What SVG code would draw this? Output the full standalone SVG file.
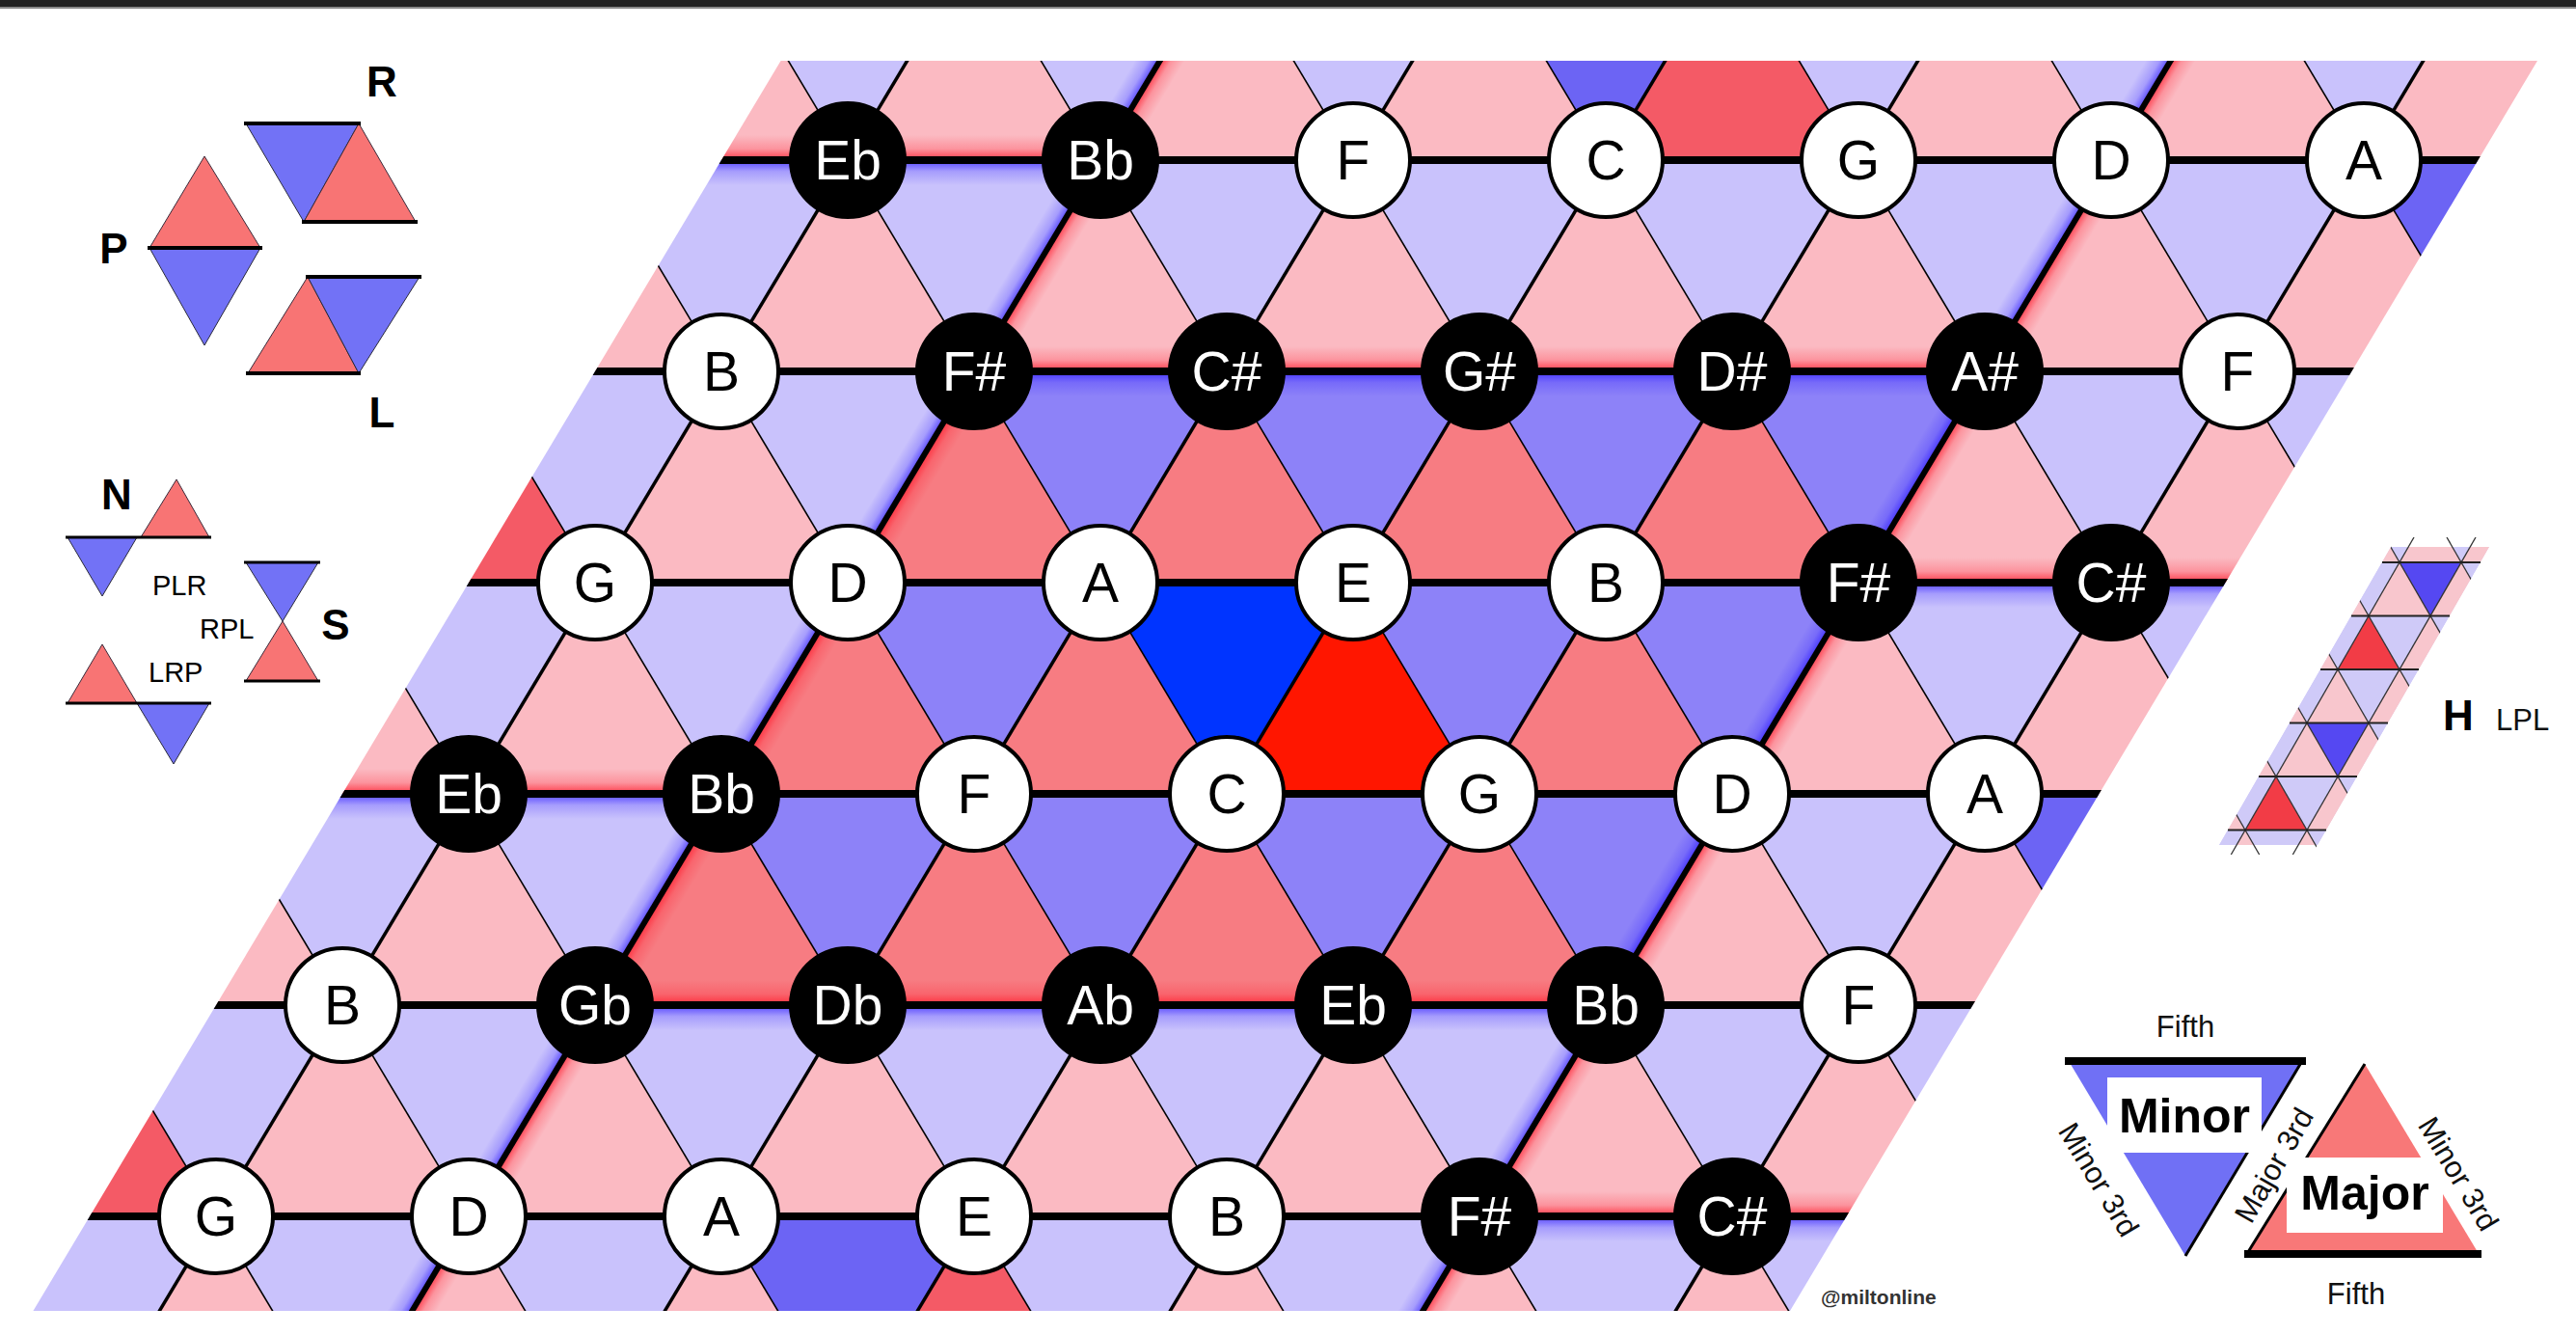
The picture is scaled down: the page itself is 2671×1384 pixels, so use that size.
<svg xmlns="http://www.w3.org/2000/svg" width="2671" height="1384" viewBox="0 0 2671 1384">
<style>
text{font-family:"Liberation Sans",Arial,Helvetica,sans-serif}
.lu{fill:#fbbac2}.ld{fill:#c9c2fc}.du{fill:#f77c82}.dd{fill:#8d82f8}.cu{fill:#f45a66}.ad{fill:#6c64f4}.hu{fill:#ff1600}.hd{fill:#0034ff}
.h{stroke:#000;stroke-width:8}
.s{stroke:#000;stroke-width:3.5}
.sb{stroke:#000;stroke-width:6}
.b{stroke:#000;stroke-width:1.6}
.wn{fill:#fff;stroke:#000;stroke-width:4}
.bn{fill:#000;stroke:#000;stroke-width:4}
.tw{font-size:57px;fill:#000;text-anchor:middle}
.tb{font-size:57px;fill:#fff;text-anchor:middle}
.lr{fill:#f87474;stroke:#3a2a3a;stroke-width:1}
.lb{fill:#7272f6;stroke:#2a2a3a;stroke-width:1}
.kl{stroke:#000;stroke-width:4}
.big{font-size:44px;font-weight:bold;text-anchor:middle}
.sm{font-size:29px}
.mlu{fill:#f8c6cd}.mld{fill:#cfcaf8}.mr{fill:#f23c46}.mb{fill:#5548f2}
.ml{stroke:#222;stroke-width:2}
.mt{stroke:#333;stroke-width:1.3}
.lg{font-size:31px;fill:#111;text-anchor:middle}
</style>
<defs>
<path id="tu" d="M0,0 L-131,219 L131,219 Z"/>
<path id="td" d="M0,0 L262,0 L131,219 Z"/>
<path id="mu" d="M0,0 L-32,55.5 L32,55.5 Z"/>
<path id="md" d="M0,0 L64,0 L32,55.5 Z"/>
<clipPath id="latt"><polygon points="809.6,63 2631,63 1856,1359 34.4,1359"/></clipPath>
<clipPath id="strip"><polygon points="2479,567 2581,567 2403,876 2301,876"/></clipPath>
<clipPath id="strip2"><polygon points="2485,557 2587,557 2397,886 2295,886"/></clipPath>
<linearGradient id="gR" x1="0" y1="0" x2="0" y2="1"><stop offset="0" stop-color="#ff2030" stop-opacity="0"/><stop offset="0.55" stop-color="#ff2030" stop-opacity="0.25"/><stop offset="1" stop-color="#ff2030" stop-opacity="0.85"/></linearGradient>
<linearGradient id="gB" x1="0" y1="0" x2="0" y2="1"><stop offset="0" stop-color="#2a18ff" stop-opacity="0.75"/><stop offset="0.45" stop-color="#2a18ff" stop-opacity="0.22"/><stop offset="1" stop-color="#2a18ff" stop-opacity="0"/></linearGradient>
<linearGradient id="gRv" x1="0" y1="0" x2="1" y2="0"><stop offset="0" stop-color="#ff2030" stop-opacity="0.85"/><stop offset="0.45" stop-color="#ff2030" stop-opacity="0.25"/><stop offset="1" stop-color="#ff2030" stop-opacity="0"/></linearGradient>
<linearGradient id="gBv" x1="0" y1="0" x2="1" y2="0"><stop offset="0" stop-color="#2a18ff" stop-opacity="0"/><stop offset="0.55" stop-color="#2a18ff" stop-opacity="0.22"/><stop offset="1" stop-color="#2a18ff" stop-opacity="0.75"/></linearGradient>
</defs>
<rect x="0" y="0" width="2671" height="1384" fill="#fff"/>
<rect x="0" y="0" width="2671" height="7" fill="#232323"/>
<rect x="0" y="7" width="2671" height="2" fill="#8a8a8a"/>

<g id="lattice" clip-path="url(#latt)">
<g id="triangles">
<use href="#tu" class="lu" x="748" y="-53"/><use href="#tu" class="lu" x="1010" y="-53"/><use href="#tu" class="lu" x="1272" y="-53"/><use href="#tu" class="lu" x="1534" y="-53"/><use href="#tu" class="cu" x="1796" y="-53"/><use href="#tu" class="lu" x="2058" y="-53"/><use href="#tu" class="lu" x="2320" y="-53"/><use href="#tu" class="lu" x="2582" y="-53"/>
<use href="#td" class="ld" x="748" y="-53"/><use href="#td" class="ld" x="1010" y="-53"/><use href="#td" class="ld" x="1272" y="-53"/><use href="#td" class="ad" x="1534" y="-53"/><use href="#td" class="ld" x="1796" y="-53"/><use href="#td" class="ld" x="2058" y="-53"/><use href="#td" class="ld" x="2320" y="-53"/><use href="#td" class="ld" x="2582" y="-53"/>

<use href="#tu" class="lu" x="617" y="166"/><use href="#tu" class="lu" x="879" y="166"/><use href="#tu" class="lu" x="1141" y="166"/><use href="#tu" class="lu" x="1403" y="166"/><use href="#tu" class="lu" x="1665" y="166"/><use href="#tu" class="lu" x="1927" y="166"/><use href="#tu" class="lu" x="2189" y="166"/><use href="#tu" class="lu" x="2451" y="166"/>
<use href="#td" class="ld" x="617" y="166"/><use href="#td" class="ld" x="879" y="166"/><use href="#td" class="ld" x="1141" y="166"/><use href="#td" class="ld" x="1403" y="166"/><use href="#td" class="ld" x="1665" y="166"/><use href="#td" class="ld" x="1927" y="166"/><use href="#td" class="ld" x="2189" y="166"/><use href="#td" class="ad" x="2451" y="166"/>

<use href="#tu" class="cu" x="486" y="385"/><use href="#tu" class="lu" x="748" y="385"/><use href="#tu" class="du" x="1010" y="385"/><use href="#tu" class="du" x="1272" y="385"/><use href="#tu" class="du" x="1534" y="385"/><use href="#tu" class="du" x="1796" y="385"/><use href="#tu" class="lu" x="2058" y="385"/><use href="#tu" class="lu" x="2320" y="385"/>
<use href="#td" class="ld" x="486" y="385"/><use href="#td" class="ld" x="748" y="385"/><use href="#td" class="dd" x="1010" y="385"/><use href="#td" class="dd" x="1272" y="385"/><use href="#td" class="dd" x="1534" y="385"/><use href="#td" class="dd" x="1796" y="385"/><use href="#td" class="ld" x="2058" y="385"/><use href="#td" class="ld" x="2320" y="385"/>

<use href="#tu" class="lu" x="355" y="604"/><use href="#tu" class="lu" x="617" y="604"/><use href="#tu" class="du" x="879" y="604"/><use href="#tu" class="du" x="1141" y="604"/><use href="#tu" class="hu" x="1403" y="604"/><use href="#tu" class="du" x="1665" y="604"/><use href="#tu" class="lu" x="1927" y="604"/><use href="#tu" class="lu" x="2189" y="604"/>
<use href="#td" class="ld" x="355" y="604"/><use href="#td" class="ld" x="617" y="604"/><use href="#td" class="dd" x="879" y="604"/><use href="#td" class="hd" x="1141" y="604"/><use href="#td" class="dd" x="1403" y="604"/><use href="#td" class="dd" x="1665" y="604"/><use href="#td" class="ld" x="1927" y="604"/><use href="#td" class="ld" x="2189" y="604"/>

<use href="#tu" class="lu" x="224" y="823"/><use href="#tu" class="lu" x="486" y="823"/><use href="#tu" class="du" x="748" y="823"/><use href="#tu" class="du" x="1010" y="823"/><use href="#tu" class="du" x="1272" y="823"/><use href="#tu" class="du" x="1534" y="823"/><use href="#tu" class="lu" x="1796" y="823"/><use href="#tu" class="lu" x="2058" y="823"/>
<use href="#td" class="ld" x="224" y="823"/><use href="#td" class="ld" x="486" y="823"/><use href="#td" class="dd" x="748" y="823"/><use href="#td" class="dd" x="1010" y="823"/><use href="#td" class="dd" x="1272" y="823"/><use href="#td" class="dd" x="1534" y="823"/><use href="#td" class="ld" x="1796" y="823"/><use href="#td" class="ad" x="2058" y="823"/>

<use href="#tu" class="cu" x="93" y="1042"/><use href="#tu" class="lu" x="355" y="1042"/><use href="#tu" class="lu" x="617" y="1042"/><use href="#tu" class="lu" x="879" y="1042"/><use href="#tu" class="lu" x="1141" y="1042"/><use href="#tu" class="lu" x="1403" y="1042"/><use href="#tu" class="lu" x="1665" y="1042"/><use href="#tu" class="lu" x="1927" y="1042"/>
<use href="#td" class="ld" x="93" y="1042"/><use href="#td" class="ld" x="355" y="1042"/><use href="#td" class="ld" x="617" y="1042"/><use href="#td" class="ld" x="879" y="1042"/><use href="#td" class="ld" x="1141" y="1042"/><use href="#td" class="ld" x="1403" y="1042"/><use href="#td" class="ld" x="1665" y="1042"/><use href="#td" class="ld" x="1927" y="1042"/>

<use href="#tu" class="lu" x="-38" y="1261"/><use href="#tu" class="lu" x="224" y="1261"/><use href="#tu" class="lu" x="486" y="1261"/><use href="#tu" class="lu" x="748" y="1261"/><use href="#tu" class="cu" x="1010" y="1261"/><use href="#tu" class="lu" x="1272" y="1261"/><use href="#tu" class="lu" x="1534" y="1261"/><use href="#tu" class="lu" x="1796" y="1261"/>
<use href="#td" class="ld" x="-38" y="1261"/><use href="#td" class="ld" x="224" y="1261"/><use href="#td" class="ld" x="486" y="1261"/><use href="#td" class="ad" x="748" y="1261"/><use href="#td" class="ld" x="1010" y="1261"/><use href="#td" class="ld" x="1272" y="1261"/><use href="#td" class="ld" x="1534" y="1261"/><use href="#td" class="ld" x="1796" y="1261"/>
</g>
<g id="glow">
<rect x="700" y="140" width="441" height="26" fill="url(#gR)"/><rect x="700" y="166" width="441" height="26" fill="url(#gB)"/>
<rect x="1010" y="359" width="1048" height="26" fill="url(#gR)"/><rect x="1010" y="385" width="1048" height="26" fill="url(#gB)"/>
<rect x="1927" y="578" width="473" height="26" fill="url(#gR)"/><rect x="1927" y="604" width="473" height="26" fill="url(#gB)"/>
<rect x="300" y="797" width="448" height="26" fill="url(#gR)"/><rect x="300" y="823" width="448" height="26" fill="url(#gB)"/>
<rect x="617" y="1016" width="1048" height="26" fill="url(#gR)"/><rect x="617" y="1042" width="1048" height="26" fill="url(#gB)"/>
<rect x="1534" y="1235" width="466" height="26" fill="url(#gR)"/><rect x="1534" y="1261" width="466" height="26" fill="url(#gB)"/>
<g transform="translate(1141,166) skewX(-30.89)"><rect x="-26" y="-120" width="26" height="1330" fill="url(#gBv)"/><rect x="0" y="-120" width="26" height="1330" fill="url(#gRv)"/></g>
<g transform="translate(2189,166) skewX(-30.89)"><rect x="-26" y="-120" width="26" height="1330" fill="url(#gBv)"/><rect x="0" y="-120" width="26" height="1330" fill="url(#gRv)"/></g>
</g>
<g id="connectors">
<line class="b" x1="-506.4" y1="40" x2="295.2" y2="1380"/>
<line class="b" x1="-244.4" y1="40" x2="557.2" y2="1380"/>
<line class="b" x1="17.6" y1="40" x2="819.2" y2="1380"/>
<line class="b" x1="279.6" y1="40" x2="1081.2" y2="1380"/>
<line class="b" x1="541.6" y1="40" x2="1343.2" y2="1380"/>
<line class="b" x1="803.6" y1="40" x2="1605.2" y2="1380"/>
<line class="b" x1="1065.6" y1="40" x2="1867.2" y2="1380"/>
<line class="b" x1="1327.6" y1="40" x2="2129.2" y2="1380"/>
<line class="b" x1="1589.6" y1="40" x2="2391.2" y2="1380"/>
<line class="b" x1="1851.6" y1="40" x2="2653.2" y2="1380"/>
<line class="b" x1="2113.6" y1="40" x2="2915.2" y2="1380"/>
<line class="b" x1="2375.6" y1="40" x2="3177.2" y2="1380"/>
<line class="s" x1="954.4" y1="40" x2="152.8" y2="1380"/>
<line class="sb" x1="1216.4" y1="40" x2="414.8" y2="1380"/>
<line class="s" x1="1478.4" y1="40" x2="676.8" y2="1380"/>
<line class="s" x1="1740.4" y1="40" x2="938.8" y2="1380"/>
<line class="s" x1="2002.4" y1="40" x2="1200.8" y2="1380"/>
<line class="sb" x1="2264.4" y1="40" x2="1462.8" y2="1380"/>
<line class="s" x1="2526.4" y1="40" x2="1724.8" y2="1380"/>
<line class="h" x1="700" y1="166" x2="2640" y2="166"/>
<line class="h" x1="560" y1="385" x2="2500" y2="385"/>
<line class="h" x1="430" y1="604" x2="2380" y2="604"/>
<line class="h" x1="300" y1="823" x2="2240" y2="823"/>
<line class="h" x1="170" y1="1042" x2="2110" y2="1042"/>
<line class="h" x1="40" y1="1261" x2="1980" y2="1261"/>
</g>
</g>

<g id="nodes">
<g id="n-0-Eb"><circle class="bn" cx="879" cy="166" r="59"/><text class="tb" x="879" y="186">Eb</text></g>
<g id="n-0-Bb"><circle class="bn" cx="1141" cy="166" r="59"/><text class="tb" x="1141" y="186">Bb</text></g>
<g id="n-0-F"><circle class="wn" cx="1403" cy="166" r="59"/><text class="tw" x="1403" y="186">F</text></g>
<g id="n-0-C"><circle class="wn" cx="1665" cy="166" r="59"/><text class="tw" x="1665" y="186">C</text></g>
<g id="n-0-G"><circle class="wn" cx="1927" cy="166" r="59"/><text class="tw" x="1927" y="186">G</text></g>
<g id="n-0-D"><circle class="wn" cx="2189" cy="166" r="59"/><text class="tw" x="2189" y="186">D</text></g>
<g id="n-0-A"><circle class="wn" cx="2451" cy="166" r="59"/><text class="tw" x="2451" y="186">A</text></g>

<g id="n-1-B"><circle class="wn" cx="748" cy="385" r="59"/><text class="tw" x="748" y="405">B</text></g>
<g id="n-1-Fs"><circle class="bn" cx="1010" cy="385" r="59"/><text class="tb" x="1010" y="405">F#</text></g>
<g id="n-1-Cs"><circle class="bn" cx="1272" cy="385" r="59"/><text class="tb" x="1272" y="405">C#</text></g>
<g id="n-1-Gs"><circle class="bn" cx="1534" cy="385" r="59"/><text class="tb" x="1534" y="405">G#</text></g>
<g id="n-1-Ds"><circle class="bn" cx="1796" cy="385" r="59"/><text class="tb" x="1796" y="405">D#</text></g>
<g id="n-1-As"><circle class="bn" cx="2058" cy="385" r="59"/><text class="tb" x="2058" y="405">A#</text></g>
<g id="n-1-F"><circle class="wn" cx="2320" cy="385" r="59"/><text class="tw" x="2320" y="405">F</text></g>

<g id="n-2-G"><circle class="wn" cx="617" cy="604" r="59"/><text class="tw" x="617" y="624">G</text></g>
<g id="n-2-D"><circle class="wn" cx="879" cy="604" r="59"/><text class="tw" x="879" y="624">D</text></g>
<g id="n-2-A"><circle class="wn" cx="1141" cy="604" r="59"/><text class="tw" x="1141" y="624">A</text></g>
<g id="n-2-E"><circle class="wn" cx="1403" cy="604" r="59"/><text class="tw" x="1403" y="624">E</text></g>
<g id="n-2-B"><circle class="wn" cx="1665" cy="604" r="59"/><text class="tw" x="1665" y="624">B</text></g>
<g id="n-2-Fs"><circle class="bn" cx="1927" cy="604" r="59"/><text class="tb" x="1927" y="624">F#</text></g>
<g id="n-2-Cs"><circle class="bn" cx="2189" cy="604" r="59"/><text class="tb" x="2189" y="624">C#</text></g>

<g id="n-3-Eb"><circle class="bn" cx="486" cy="823" r="59"/><text class="tb" x="486" y="843">Eb</text></g>
<g id="n-3-Bb"><circle class="bn" cx="748" cy="823" r="59"/><text class="tb" x="748" y="843">Bb</text></g>
<g id="n-3-F"><circle class="wn" cx="1010" cy="823" r="59"/><text class="tw" x="1010" y="843">F</text></g>
<g id="n-3-C"><circle class="wn" cx="1272" cy="823" r="59"/><text class="tw" x="1272" y="843">C</text></g>
<g id="n-3-G"><circle class="wn" cx="1534" cy="823" r="59"/><text class="tw" x="1534" y="843">G</text></g>
<g id="n-3-D"><circle class="wn" cx="1796" cy="823" r="59"/><text class="tw" x="1796" y="843">D</text></g>
<g id="n-3-A"><circle class="wn" cx="2058" cy="823" r="59"/><text class="tw" x="2058" y="843">A</text></g>

<g id="n-4-B"><circle class="wn" cx="355" cy="1042" r="59"/><text class="tw" x="355" y="1062">B</text></g>
<g id="n-4-Gb"><circle class="bn" cx="617" cy="1042" r="59"/><text class="tb" x="617" y="1062">Gb</text></g>
<g id="n-4-Db"><circle class="bn" cx="879" cy="1042" r="59"/><text class="tb" x="879" y="1062">Db</text></g>
<g id="n-4-Ab"><circle class="bn" cx="1141" cy="1042" r="59"/><text class="tb" x="1141" y="1062">Ab</text></g>
<g id="n-4-Eb"><circle class="bn" cx="1403" cy="1042" r="59"/><text class="tb" x="1403" y="1062">Eb</text></g>
<g id="n-4-Bb"><circle class="bn" cx="1665" cy="1042" r="59"/><text class="tb" x="1665" y="1062">Bb</text></g>
<g id="n-4-F"><circle class="wn" cx="1927" cy="1042" r="59"/><text class="tw" x="1927" y="1062">F</text></g>

<g id="n-5-G"><circle class="wn" cx="224" cy="1261" r="59"/><text class="tw" x="224" y="1281">G</text></g>
<g id="n-5-D"><circle class="wn" cx="486" cy="1261" r="59"/><text class="tw" x="486" y="1281">D</text></g>
<g id="n-5-A"><circle class="wn" cx="748" cy="1261" r="59"/><text class="tw" x="748" y="1281">A</text></g>
<g id="n-5-E"><circle class="wn" cx="1010" cy="1261" r="59"/><text class="tw" x="1010" y="1281">E</text></g>
<g id="n-5-B"><circle class="wn" cx="1272" cy="1261" r="59"/><text class="tw" x="1272" y="1281">B</text></g>
<g id="n-5-Fs"><circle class="bn" cx="1534" cy="1261" r="59"/><text class="tb" x="1534" y="1281">F#</text></g>
<g id="n-5-Cs"><circle class="bn" cx="1796" cy="1261" r="59"/><text class="tb" x="1796" y="1281">C#</text></g>
</g>

<g id="legend-PRL">
<polygon class="lr" points="212,162 155,257 270,257"/>
<polygon class="lb" points="155,257 270,257 212,358"/>
<line class="kl" x1="153" y1="257" x2="272" y2="257"/>
<polygon class="lb" points="255,128 372,128 315,230"/>
<polygon class="lr" points="372,128 315,230 431,230"/>
<line class="kl" x1="253" y1="128" x2="374" y2="128"/>
<line class="kl" x1="313" y1="230" x2="433" y2="230"/>
<polygon class="lr" points="319,287 257,387 372,387"/>
<polygon class="lb" points="319,287 435,287 372,387"/>
<line class="kl" x1="317" y1="287" x2="437" y2="287"/>
<line class="kl" x1="255" y1="387" x2="374" y2="387"/>
<text class="big" x="118" y="273">P</text>
<text class="big" x="396" y="100">R</text>
<text class="big" x="396" y="443">L</text>
</g>

<g id="legend-NS">
<polygon class="lr" points="183,497 146,557 217,557"/>
<polygon class="lb" points="70,557 142,557 106,618"/>
<line stroke="#000" stroke-width="3" x1="68" y1="557" x2="219" y2="557"/>
<polygon class="lb" points="255,583 330,583 293,644"/>
<polygon class="lr" points="293,644 255,706 330,706"/>
<line stroke="#000" stroke-width="3" x1="253" y1="583" x2="332" y2="583"/>
<line stroke="#000" stroke-width="3" x1="253" y1="706" x2="332" y2="706"/>
<polygon class="lr" points="106,668 70,729 142,729"/>
<polygon class="lb" points="142,729 217,729 180,792"/>
<line stroke="#000" stroke-width="3" x1="68" y1="729" x2="219" y2="729"/>
<text class="big" x="121" y="528">N</text>
<text class="big" x="348" y="663">S</text>
<text class="sm" x="158" y="617">PLR</text>
<text class="sm" x="207" y="662">RPL</text>
<text class="sm" x="154" y="707">LRP</text>
</g>

<g id="legend-H">
<g clip-path="url(#strip)">
<polygon class="mld" points="2479,567 2581,567 2403,876 2301,876"/>
<use href="#mu" class="mlu" x="2456" y="527.5"/><use href="#mu" class="mlu" x="2520" y="527.5"/><use href="#mu" class="mlu" x="2584" y="527.5"/>
<use href="#md" class="mld" x="2456" y="527.5"/><use href="#md" class="mld" x="2520" y="527.5"/><use href="#md" class="mld" x="2584" y="527.5"/>
<use href="#mu" class="mlu" x="2424" y="583"/><use href="#mu" class="mlu" x="2488" y="583"/><use href="#mu" class="mlu" x="2552" y="583"/>
<use href="#md" class="mld" x="2424" y="583"/><use href="#md" class="mb" x="2488" y="583"/><use href="#md" class="mld" x="2552" y="583"/>
<use href="#mu" class="mlu" x="2392" y="638.5"/><use href="#mu" class="mr" x="2456" y="638.5"/><use href="#mu" class="mlu" x="2520" y="638.5"/>
<use href="#md" class="mld" x="2392" y="638.5"/><use href="#md" class="mld" x="2456" y="638.5"/><use href="#md" class="mld" x="2520" y="638.5"/>
<use href="#mu" class="mlu" x="2360" y="694"/><use href="#mu" class="mlu" x="2424" y="694"/><use href="#mu" class="mlu" x="2488" y="694"/>
<use href="#md" class="mld" x="2360" y="694"/><use href="#md" class="mld" x="2424" y="694"/><use href="#md" class="mld" x="2488" y="694"/>
<use href="#mu" class="mlu" x="2328" y="749.5"/><use href="#mu" class="mlu" x="2392" y="749.5"/><use href="#mu" class="mlu" x="2456" y="749.5"/>
<use href="#md" class="mld" x="2328" y="749.5"/><use href="#md" class="mb" x="2392" y="749.5"/><use href="#md" class="mld" x="2456" y="749.5"/>
<use href="#mu" class="mlu" x="2296" y="805"/><use href="#mu" class="mr" x="2360" y="805"/><use href="#mu" class="mlu" x="2424" y="805"/>
<use href="#md" class="mld" x="2296" y="805"/><use href="#md" class="mld" x="2360" y="805"/><use href="#md" class="mld" x="2424" y="805"/>
<use href="#mu" class="mlu" x="2264" y="860.5"/><use href="#mu" class="mlu" x="2328" y="860.5"/><use href="#mu" class="mlu" x="2392" y="860.5"/>
<use href="#md" class="mld" x="2264" y="860.5"/><use href="#md" class="mld" x="2328" y="860.5"/><use href="#md" class="mld" x="2392" y="860.5"/>
</g>
<g clip-path="url(#strip2)">
<line class="mt" x1="2503" y1="557" x2="2313.3" y2="886"/>
<line class="mt" x1="2567" y1="557" x2="2377.3" y2="886"/>
<line class="mt" x1="2153" y1="557" x2="2342.7" y2="886"/>
<line class="mt" x1="2217" y1="557" x2="2406.7" y2="886"/>
<line class="mt" x1="2281" y1="557" x2="2470.7" y2="886"/>
<line class="mt" x1="2345" y1="557" x2="2534.7" y2="886"/>
<line class="mt" x1="2409" y1="557" x2="2598.7" y2="886"/>
<line class="mt" x1="2473" y1="557" x2="2662.7" y2="886"/>
<line class="mt" x1="2537" y1="557" x2="2726.7" y2="886"/>
</g>
<line class="ml" x1="2470" y1="583" x2="2572" y2="583"/>
<line class="ml" x1="2438" y1="638.5" x2="2540" y2="638.5"/>
<line class="ml" x1="2406" y1="694" x2="2508" y2="694"/>
<line class="ml" x1="2374" y1="749.5" x2="2476" y2="749.5"/>
<line class="ml" x1="2342" y1="805" x2="2444" y2="805"/>
<line class="ml" x1="2310" y1="860.5" x2="2412" y2="860.5"/>
<text class="big" x="2549" y="757" font-size="48">H</text>
<text x="2588" y="757" font-size="31" fill="#111">LPL</text>
</g>

<g id="legend-chords">
<polygon fill="#7070f5" points="2145,1100 2387,1100 2266,1302"/>
<line stroke="#000" stroke-width="3" x1="2387" y1="1100" x2="2266" y2="1302"/>
<line stroke="#000" stroke-width="8" x1="2141" y1="1100" x2="2391" y2="1100"/>
<rect x="2185" y="1117" width="160" height="78" fill="#fff"/>
<text x="2265" y="1174" font-size="50" font-weight="bold" text-anchor="middle" fill="#000">Minor</text>
<polygon fill="#f87878" points="2452,1103 2331,1298 2569,1298"/>
<line stroke="#000" stroke-width="3" x1="2452" y1="1103" x2="2331" y2="1298"/>
<line stroke="#000" stroke-width="8" x1="2327" y1="1300" x2="2573" y2="1300"/>
<rect x="2371" y="1200" width="162" height="78" fill="#fff"/>
<text x="2452" y="1254" font-size="50" font-weight="bold" text-anchor="middle" fill="#000">Major</text>
<text class="lg" x="2266" y="1075">Fifth</text>
<text class="lg" x="2443" y="1352">Fifth</text>
<text class="lg" transform="translate(2176,1223) rotate(59)" dominant-baseline="central">Minor 3rd</text>
<text class="lg" transform="translate(2358,1208) rotate(-60)" dominant-baseline="central">Major 3rd</text>
<text class="lg" transform="translate(2549,1217) rotate(59)" dominant-baseline="central">Minor 3rd</text>
</g>
<text x="1888" y="1352" font-size="21" font-weight="bold" fill="#333">@miltonline</text>
</svg>
